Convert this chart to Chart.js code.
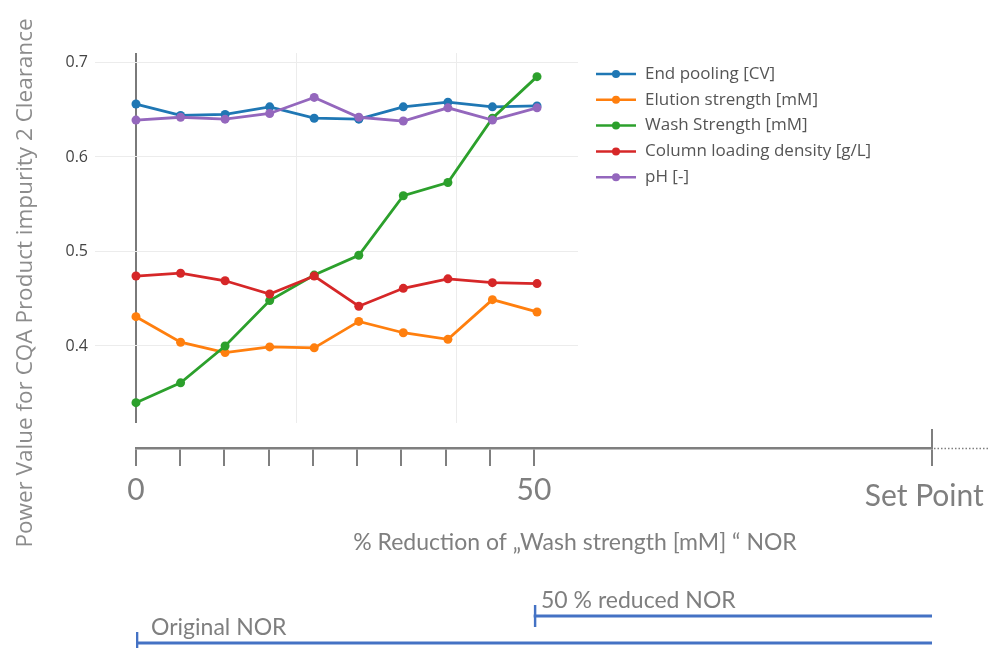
<!DOCTYPE html>
<html>
<head>
<meta charset="utf-8">
<script src="https://cdn.jsdelivr.net/npm/chart.js@4/dist/chart.umd.min.js"></script>
<style>
  html, body { margin: 0; padding: 0; background: #fff; overflow: hidden; }
  #wrap { position: relative; width: 989px; height: 648px; overflow: hidden; }
  canvas { position: absolute; left: 0; top: 0; }
</style>
</head>
<body>
<div id="wrap">
  <canvas id="powerChart" width="989" height="648"></canvas>
  <canvas id="reductionAxis" width="989" height="648"></canvas>
  <canvas id="norRanges" width="989" height="670"></canvas>
</div>
<script>
// % reduction of the wash-strength NOR at each evaluated step
const reductionSteps = [0, 5.56, 11.11, 16.67, 22.22, 27.78, 33.33, 38.89, 44.44, 50];

// Power value for the CQA "Product impurity 2 Clearance", per parameter
const seriesNames = [
  'End pooling [CV]',
  'Elution strength [mM]',
  'Wash Strength [mM]',
  'Column loading density [g/L]',
  'pH [-]'
];
const endPooling      = [0.656, 0.644, 0.645, 0.653, 0.641, 0.640, 0.653, 0.658, 0.653, 0.654];
const elutionStrength = [0.431, 0.404, 0.393, 0.399, 0.398, 0.426, 0.414, 0.407, 0.449, 0.436];
const washStrength    = [0.340, 0.361, 0.400, 0.448, 0.475, 0.496, 0.559, 0.573, 0.641, 0.685];
const loadingDensity  = [0.474, 0.477, 0.469, 0.455, 0.474, 0.442, 0.461, 0.471, 0.467, 0.466];
const phValues        = [0.639, 0.642, 0.640, 0.646, 0.663, 0.642, 0.638, 0.652, 0.639, 0.652];
const seriesValues = [endPooling, elutionStrength, washStrength, loadingDensity, phValues];
const seriesColors = ['#1f77b4', '#ff7f0e', '#2ca02c', '#d62728', '#9467bd'];

// Grid positions of the power plot
const xGridValues = [0, 20, 40];
const yTickValues = [0.4, 0.5, 0.6, 0.7];

// Reduction axis: labelled ticks and the set point
const setPoint = 100;
const axisTickValues = [0, 50, setPoint];
const axisTickLabels = ['0', '50', 'Set Point'];
const axisTitle = '% Reduction of \u201EWash strength [mM] \u201C NOR';
const yAxisTitle = 'Power Value for CQA Product impurity 2 Clearance';

// Normal operating ranges along the reduction axis
const norLabels = ['50 % reduced NOR', 'Original NOR'];
const norRanges = [[50, setPoint], [0, setPoint]];

const GREY = '#7f7f7f';

// Legend beside the plot: line + dot symbol, then the series name
const sideLegend = {
  id: 'sideLegend',
  afterDraw(chart, args, opts) {
    const { ctx, chartArea } = chart;
    ctx.save();
    chart.data.datasets.forEach((ds, i) => {
      const y = chartArea.top + opts.firstRow + i * opts.rowGap;
      const x0 = chartArea.right + opts.gap;
      ctx.strokeStyle = ds.borderColor;
      ctx.lineWidth = 2.5;
      ctx.beginPath();
      ctx.moveTo(x0, y);
      ctx.lineTo(x0 + opts.symbolWidth, y);
      ctx.stroke();
      ctx.fillStyle = ds.borderColor;
      ctx.beginPath();
      ctx.arc(x0 + opts.symbolWidth / 2, y, 4, 0, Math.PI * 2);
      ctx.fill();
      ctx.fillStyle = opts.color;
      ctx.font = opts.font;
      ctx.textAlign = 'left';
      ctx.textBaseline = 'middle';
      ctx.fillText(ds.label, x0 + opts.symbolWidth + 9, y);
    });
    ctx.restore();
  }
};

// Rotated title of the value axis
const sideTitle = {
  id: 'sideTitle',
  afterDraw(chart, args, opts) {
    const { ctx } = chart;
    ctx.save();
    ctx.translate(opts.x, opts.y);
    ctx.rotate(-Math.PI / 2);
    ctx.font = opts.font;
    ctx.fillStyle = opts.color;
    ctx.textAlign = 'center';
    ctx.textBaseline = 'alphabetic';
    ctx.fillText(opts.text, 0, 0);
    ctx.restore();
  }
};

new Chart(document.getElementById('powerChart'), {
  type: 'line',
  data: {
    datasets: seriesNames.map((name, i) => ({
      label: name,
      data: reductionSteps.map((x, k) => ({ x, y: seriesValues[i][k] })),
      borderColor: seriesColors[i],
      backgroundColor: seriesColors[i],
      borderWidth: 2.8,
      pointRadius: 4.5,
      pointHoverRadius: 4.5,
      pointBorderWidth: 0,
      tension: 0,
      order: seriesNames.length - 1 - i
    }))
  },
  options: {
    responsive: false,
    animation: false,
    events: [],
    layout: { padding: { left: 0, top: 53, right: 411, bottom: 225 } },
    plugins: {
      legend: { display: false },
      tooltip: { enabled: false },
      sideLegend: { firstRow: 21, rowGap: 25.8, gap: 18, symbolWidth: 40,
                    font: '17px "Open Sans"', color: '#555' },
      sideTitle: { text: yAxisTitle, x: 32, y: 283, font: '22.5px "Open Sans"', color: '#8c8c8c' }
    },
    scales: {
      x: {
        type: 'linear', min: -5.11, max: 55.11,
        afterBuildTicks: s => { s.ticks = xGridValues.map(v => ({ value: v })); },
        ticks: { display: false },
        grid: {
          drawTicks: false,
          color: c => (c.tick && c.tick.value === 0 ? '#7a7a7a' : '#ececec'),
          lineWidth: c => (c.tick && c.tick.value === 0 ? 2 : 1)
        },
        border: { display: false },
        afterFit: s => { s.height = 0; s.paddingLeft = 0; s.paddingRight = 0; }
      },
      y: {
        min: 0.3185, max: 0.71,
        afterBuildTicks: s => { s.ticks = yTickValues.map(v => ({ value: v })); },
        ticks: {
          padding: 7, color: '#444',
          font: { family: 'Open Sans', size: 16 },
          callback: v => v.toFixed(1)
        },
        grid: { drawTicks: false, color: '#ececec' },
        border: { display: false },
        afterFit: s => { s.width = 95; s.paddingTop = 0; s.paddingBottom = 0; }
      }
    }
  },
  plugins: [sideLegend, sideTitle]
});

// Dotted continuation past the set point, and the axis caption
const axisExtras = {
  id: 'axisExtras',
  afterDraw(chart, args, opts) {
    const { ctx, chartArea } = chart;
    const xs = chart.scales.x;
    ctx.save();
    ctx.strokeStyle = GREY;
    ctx.lineWidth = 1.5;
    ctx.setLineDash([1.5, 2]);
    ctx.beginPath();
    ctx.moveTo(xs.right + 2, chartArea.bottom + 0.5);
    ctx.lineTo(chart.width, chartArea.bottom + 0.5);
    ctx.stroke();
    ctx.setLineDash([]);
    ctx.font = opts.font;
    ctx.fillStyle = opts.color;
    ctx.textAlign = 'center';
    ctx.textBaseline = 'alphabetic';
    ctx.fillText(opts.text, opts.x, opts.y);
    ctx.restore();
  }
};

new Chart(document.getElementById('reductionAxis'), {
  type: 'scatter',
  data: { datasets: [] },
  options: {
    responsive: false,
    animation: false,
    events: [],
    layout: { padding: { left: 136, right: 57, top: 429, bottom: 120 } },
    plugins: {
      legend: { display: false },
      tooltip: { enabled: false },
      axisExtras: { text: axisTitle, x: 575, y: 550, font: '23px Lato', color: GREY }
    },
    scales: {
      x: {
        type: 'linear', min: 0, max: setPoint,
        afterBuildTicks: s => { s.ticks = reductionSteps.concat([setPoint]).map(v => ({ value: v })); },
        ticks: {
          autoSkip: false, maxRotation: 0, padding: 6, color: GREY,
          font: c => ({ family: 'Lato', size: 30,
                        lineHeight: c.tick && c.tick.value === setPoint ? 1.65 : 1.2 }),
          callback: v => {
            const i = axisTickValues.indexOf(v);
            if (i < 0) return '';
            return v === setPoint ? axisTickLabels[i] + '\u00A0\u00A0' : axisTickLabels[i];
          }
        },
        grid: {
          color: c => (c.tick && c.tick.value === setPoint ? GREY : 'rgba(0,0,0,0)'),
          tickColor: GREY, lineWidth: 2, tickWidth: 2, tickLength: 18, drawOnChartArea: true
        },
        border: { color: GREY, width: 2.5 },
        afterFit: s => { s.height = 80; s.paddingLeft = 0; s.paddingRight = 0; }
      },
      y: { display: false, min: 0, max: 1 }
    }
  },
  plugins: [axisExtras]
});

// Range names written above the start of each range
const rangeNames = {
  id: 'rangeNames',
  afterDatasetsDraw(chart, args, opts) {
    const { ctx } = chart;
    const meta = chart.getDatasetMeta(0);
    ctx.save();
    ctx.font = opts.font;
    ctx.fillStyle = opts.color;
    ctx.textAlign = 'left';
    ctx.textBaseline = 'alphabetic';
    meta.data.forEach((bar, i) => {
      const p = bar.getProps(['x', 'y', 'base'], true);
      ctx.fillText(chart.data.labels[i], Math.min(p.x, p.base) + opts.indent[i], p.y - opts.lift);
    });
    ctx.restore();
  }
};

const NOR_BLUE = '#4472c4';
new Chart(document.getElementById('norRanges'), {
  type: 'bar',
  data: {
    labels: norLabels,
    datasets: [
      { data: norRanges, backgroundColor: NOR_BLUE, barThickness: 2.5, grouped: false },
      { data: norRanges, backgroundColor: 'rgba(0,0,0,0)', borderColor: NOR_BLUE,
        borderWidth: { left: 2, right: 0, top: 0, bottom: 0 }, borderSkipped: false,
        barThickness: 22, grouped: false }
    ]
  },
  options: {
    indexAxis: 'y',
    responsive: false,
    animation: false,
    events: [],
    layout: { padding: { left: 136, right: 57, top: 602.5, bottom: 13.5 } },
    plugins: {
      legend: { display: false },
      tooltip: { enabled: false },
      rangeNames: { font: '23px Lato', color: GREY, indent: [7, 15], lift: 8 }
    },
    scales: {
      x: { display: false, min: 0, max: setPoint },
      y: { display: false }
    }
  },
  plugins: [rangeNames]
});
</script>
</body>
</html>
